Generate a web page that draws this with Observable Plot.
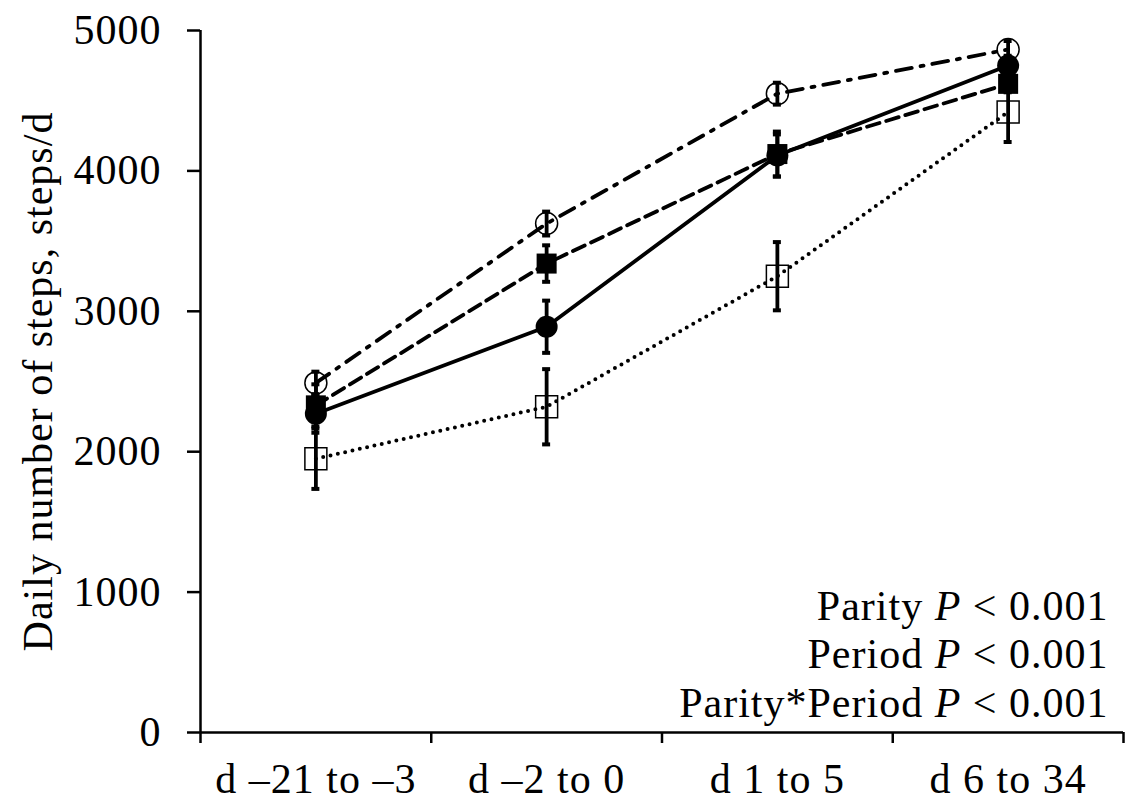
<!DOCTYPE html>
<html><head><meta charset="utf-8">
<script src="https://cdn.jsdelivr.net/npm/d3@7"></script>
<script src="https://cdn.jsdelivr.net/npm/@observablehq/plot@0.6"></script>
<style>body{margin:0;background:#fff}</style>
</head><body><div id="chart"></div>
<script>
const periods = ["d \u201321 to \u20133", "d \u20132 to 0", "d 1 to 5", "d 6 to 34"];
const seriesNames = ["Open circle", "Filled square", "Filled circle", "Open square"];
const openCircleMean = [2490, 3625, 4550, 4865];
const openCircleSE = [80, 85, 78, 60];
const filledSquareMean = [2330, 3340, 4120, 4620];
const filledSquareSE = [150, 130, 160, 60];
const filledCircleMean = [2270, 2890, 4110, 4750];
const filledCircleSE = [135, 186, 150, 70];
const openSquareMean = [1950, 2320, 3250, 4420];
const openSquareSE = [215, 268, 243, 214];
const yTicks = [0, 1000, 2000, 3000, 4000, 5000];
const yLabel = "Daily number of steps, steps/d";
const statsLabels = ["Parity", "Period", "Parity*Period"];
const statsP = "< 0.001";

const series = [
  {name: seriesNames[0], mean: openCircleMean, se: openCircleSE},
  {name: seriesNames[1], mean: filledSquareMean, se: filledSquareSE},
  {name: seriesNames[2], mean: filledCircleMean, se: filledCircleSE},
  {name: seriesNames[3], mean: openSquareMean, se: openSquareSE}
];
const rows = series.flatMap((s) => periods.map((p, i) => ({series: s.name, period: p, i: i + 0.5, mean: s.mean[i], se: s.se[i]})));
const of = (name) => rows.filter((d) => d.series === name);

const lineW = 3.8;
const chart = Plot.plot({
  width: 1131,
  height: 805,
  marginLeft: 200,
  marginRight: 8,
  marginTop: 30,
  marginBottom: 73,
  style: {fontFamily: "'Liberation Serif', 'Times New Roman', serif", fontSize: "42px", background: "white", color: "black", letterSpacing: "1px"},
  x: {type: "linear", domain: [0, periods.length]},
  y: {domain: [0, 5000]},
  marks: [
    Plot.axisY({ticks: yTicks, tickSize: 13, tickPadding: 26, tickFormat: (d) => String(d), label: null, strokeWidth: 2.5}),
    Plot.axisX({ticks: d3.range(periods.length + 1), tickSize: 11, tickFormat: () => "", label: null, strokeWidth: 2.5}),
    Plot.axisX({ticks: periods.map((_, i) => i + 0.5), tickSize: 0, tickPadding: 31, tickFormat: (d) => periods[Math.round(d - 0.5)], label: null}),
    Plot.ruleX([0], {strokeWidth: 2.5}),
    Plot.ruleY([0], {strokeWidth: 2.5}),
    Plot.line(of(seriesNames[0]), {x: "i", y: "mean", strokeWidth: lineW, strokeDasharray: "16,9,3,9"}),
    Plot.line(of(seriesNames[1]), {x: "i", y: "mean", strokeWidth: lineW, strokeDasharray: "13,7"}),
    Plot.line(of(seriesNames[2]), {x: "i", y: "mean", strokeWidth: lineW}),
    Plot.line(of(seriesNames[3]), {x: "i", y: "mean", strokeWidth: 4, strokeDasharray: "0,7.5", strokeLinecap: "round"}),
    Plot.ruleX(rows, {x: "i", y1: (d) => d.mean - d.se, y2: (d) => d.mean + d.se, strokeWidth: lineW}),
    Plot.ruleY(rows, {y: (d) => d.mean - d.se, x1: "i", x2: "i", insetLeft: -4, insetRight: -4, strokeWidth: 4}),
    Plot.ruleY(rows, {y: (d) => d.mean + d.se, x1: "i", x2: "i", insetLeft: -4, insetRight: -4, strokeWidth: 4}),
    Plot.dot(of(seriesNames[0]), {x: "i", y: "mean", r: 11, stroke: "black", strokeWidth: 1.5, fill: "none"}),
    Plot.dot(of(seriesNames[1]), {x: "i", y: "mean", symbol: "square", r: 11.3, fill: "black", stroke: "none"}),
    Plot.dot(of(seriesNames[2]), {x: "i", y: "mean", r: 11, fill: "black", stroke: "none"}),
    Plot.dot(of(seriesNames[3]), {x: "i", y: "mean", symbol: "square", r: 12.4, stroke: "black", strokeWidth: 1.5, fill: "none"}),
    Plot.text([yLabel], {frameAnchor: "left", textAnchor: "middle", rotate: -90, dx: -162}),
    Plot.text([statsLabels.map((l) => `${l} P ${statsP}`).join("\n")], {frameAnchor: "bottom-right", textAnchor: "end", lineAnchor: "bottom", lineHeight: 1.15, dx: -15, dy: -16})
  ]
});

// italicize the statistic symbol P
chart.querySelectorAll("text").forEach((t) => {
  const spans = t.querySelectorAll("tspan");
  const targets = spans.length ? Array.from(spans) : [t];
  targets.forEach((s) => {
    const txt = s.textContent;
    const k = txt.indexOf(" P <");
    if (k < 0) return;
    s.textContent = "";
    s.appendChild(document.createTextNode(txt.slice(0, k + 1)));
    const it = document.createElementNS("http://www.w3.org/2000/svg", "tspan");
    it.setAttribute("font-style", "italic");
    it.textContent = "P";
    s.appendChild(it);
    s.appendChild(document.createTextNode(txt.slice(k + 2)));
  });
});
document.getElementById("chart").appendChild(chart);
</script>
</body></html>
